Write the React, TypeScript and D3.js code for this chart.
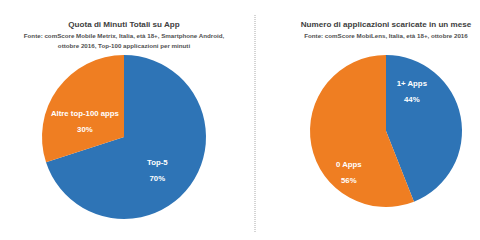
import * as d3 from "d3";

// slices, clockwise from 12 o'clock
const leftLabels = ["Top-5", "Altre top-100 apps"];
const leftValues = [70, 30];
const rightLabels = ["1+ Apps", "0 Apps"];
const rightValues = [44, 56];

const BLUE = "#2e74b6";
const ORANGE = "#ef7e22";
const FONT = "'Liberation Sans', Arial, sans-serif";

type PieProps = {
  cx: number;
  cy: number;
  r: number;
  labels: string[];
  values: number[];
  title: string;
  source: string[];
  labelPos: { angle: number; dist: number }[]; // degrees from top, fraction of radius
};

function Pie({ cx, cy, r, labels, values, title, source, labelPos }: PieProps) {
  const pie = d3.pie<number>().sort(null).value((d) => d);
  const arcs = pie(values);
  const arc = d3.arc<d3.PieArcDatum<number>>().innerRadius(0).outerRadius(r);
  const color = d3.scaleOrdinal<number, string>().domain([0, 1]).range([BLUE, ORANGE]);
  const total = d3.sum(values);

  return (
    <g>
      <text x={cx} y={27} textAnchor="middle" fontFamily={FONT} fontWeight="bold" fontSize={8.1} fill="#404040">
        {title}
      </text>
      {source.map((s, i) => (
        <text key={i} x={cx} y={38 + i * 10} textAnchor="middle" fontFamily={FONT} fontWeight="bold" fontSize={6.2} fill="#505050">
          {s}
        </text>
      ))}
      <g transform={`translate(${cx},${cy})`}>
        {arcs.map((a, i) => (
          <path key={i} d={arc(a) ?? ""} fill={color(i)} />
        ))}
        {arcs.map((a, i) => {
          const ang = (labelPos[i].angle * Math.PI) / 180;
          const x = Math.sin(ang) * r * labelPos[i].dist;
          const y = -Math.cos(ang) * r * labelPos[i].dist;
          return (
            <g key={i} fontFamily={FONT} fontWeight="bold" fontSize={7.8} fill="#fff" textAnchor="middle">
              <text x={x} y={y}>{labels[i]}</text>
              <text x={x} y={y + 16}>{Math.round((a.value / total) * 100)}%</text>
            </g>
          );
        })}
      </g>
    </g>
  );
}

export default function App() {
  return (
    <svg width={480} height={240} style={{ position: "absolute", left: 0, top: 0, background: "#fff" }}>
      <Pie
        cx={124}
        cy={137}
        r={82}
        labels={leftLabels}
        values={leftValues}
        title="Quota di Minuti  Totali su App"
        source={[
          "Fonte: comScore Mobile Metrix, Italia, età 18+, Smartphone Android,",
          "ottobre 2016, Top-100 applicazioni per minuti",
        ]}
        labelPos={[
          { angle: 130, dist: 0.53 },
          { angle: 298, dist: 0.54 },
        ]}
      />
      <line x1={255} x2={255} y1={15} y2={232} stroke="#aaa" strokeWidth={1} strokeDasharray="1 1" />
      <Pie
        cx={386}
        cy={131}
        r={76}
        labels={rightLabels}
        values={rightValues}
        title="Numero di applicazioni  scaricate in un mese"
        source={["Fonte: comScore MobiLens, Italia, età 18+, ottobre 2016"]}
        labelPos={[
          { angle: 30, dist: 0.68 },
          { angle: 226, dist: 0.68 },
        ]}
      />
    </svg>
  );
}
